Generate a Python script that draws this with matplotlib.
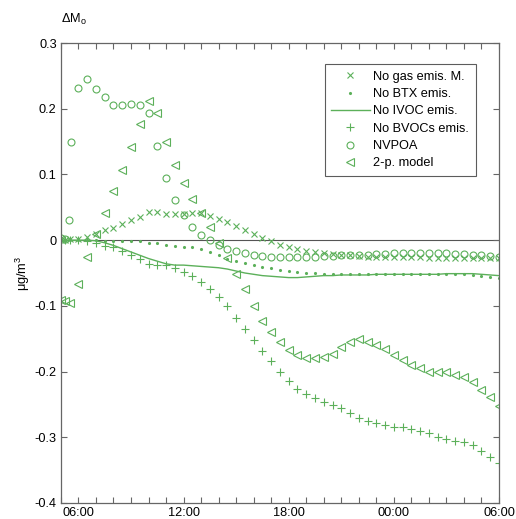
import matplotlib
matplotlib.use('Agg')
import matplotlib.pyplot as plt
from matplotlib.ticker import MultipleLocator, FixedLocator

plt.rcParams['font.family'] = ['Liberation Sans', 'DejaVu Sans']
plt.rcParams['mathtext.fontset'] = 'custom'
plt.rcParams['mathtext.rm'] = 'Liberation Sans'
plt.rcParams['mathtext.default'] = 'regular'

GREEN = '#5cb05a'

# half-hourly grid, hours since 00:00 of day 1 (24 = midnight)
hours = [6.0, 6.5, 7.0, 7.5, 8.0, 8.5, 9.0, 9.5, 10.0, 10.5, 11.0, 11.5,
         12.0, 12.5, 13.0, 13.5, 14.0, 14.5, 15.0, 15.5, 16.0, 16.5, 17.0, 17.5,
         18.0, 18.5, 19.0, 19.5, 20.0, 20.5, 21.0, 21.5, 22.0, 22.5, 23.0, 23.5,
         24.0, 24.5, 25.0, 25.5, 26.0, 26.5, 27.0, 27.5, 28.0, 28.5, 29.0, 29.5,
         30.0]
early_hours = [5.0, 5.25, 5.5]
early_hours_poa = [5.0, 5.25, 5.45, 5.6]

gas_early = [0.0, 0.0, 0.001]
gas = [0.002, 0.005, 0.010, 0.015, 0.018, 0.024, 0.030, 0.036, 0.043, 0.043,
       0.040, 0.040, 0.040, 0.041, 0.041, 0.037, 0.032, 0.028, 0.021, 0.015,
       0.010, 0.004, -0.001, -0.007, -0.011, -0.013, -0.016, -0.018, -0.020,
       -0.021, -0.022, -0.023, -0.024, -0.025, -0.025, -0.026, -0.026, -0.026,
       -0.026, -0.026, -0.027, -0.027, -0.027, -0.027, -0.027, -0.027, -0.027,
       -0.027, -0.027]

btx_early = [0.0, 0.0, 0.0]
btx = [0.0, 0.0, 0.0, -0.001, -0.001, -0.001, -0.002, -0.002, -0.004, -0.005,
       -0.007, -0.009, -0.010, -0.011, -0.014, -0.018, -0.023, -0.028, -0.031,
       -0.035, -0.038, -0.041, -0.043, -0.045, -0.047, -0.048, -0.050, -0.050,
       -0.051, -0.051, -0.051, -0.051, -0.051, -0.051, -0.051, -0.051, -0.051,
       -0.051, -0.051, -0.051, -0.051, -0.051, -0.051, -0.051, -0.052, -0.053,
       -0.055, -0.056, -0.057]

ivoc_early = [0.0, 0.0, 0.0]
ivoc = [0.0, 0.0, -0.001, -0.004, -0.008, -0.013, -0.018, -0.023, -0.028,
        -0.032, -0.036, -0.038, -0.038, -0.039, -0.040, -0.041, -0.042, -0.044,
        -0.047, -0.050, -0.052, -0.054, -0.055, -0.056, -0.057, -0.057, -0.056,
        -0.055, -0.054, -0.054, -0.053, -0.053, -0.053, -0.053, -0.052, -0.052,
        -0.052, -0.052, -0.052, -0.052, -0.052, -0.052, -0.051, -0.051, -0.051,
        -0.051, -0.052, -0.053, -0.054]

bvoc_early = [0.0, 0.0, 0.0]
bvoc = [0.0, -0.001, -0.005, -0.009, -0.011, -0.017, -0.023, -0.028, -0.036,
        -0.038, -0.038, -0.043, -0.048, -0.055, -0.063, -0.075, -0.087, -0.101,
        -0.118, -0.135, -0.152, -0.168, -0.184, -0.200, -0.214, -0.226, -0.234,
        -0.241, -0.247, -0.251, -0.255, -0.263, -0.270, -0.275, -0.278, -0.281,
        -0.284, -0.285, -0.288, -0.290, -0.294, -0.299, -0.303, -0.306, -0.308,
        -0.312, -0.321, -0.330, -0.339]

poa_early = [0.003, 0.002, 0.030, 0.149]
poa = [0.231, 0.245, 0.230, 0.218, 0.205, 0.206, 0.208, 0.205, 0.193, 0.143,
       0.095, 0.061, 0.038, 0.020, 0.008, 0.0, -0.008, -0.013, -0.016, -0.019,
       -0.023, -0.024, -0.025, -0.026, -0.026, -0.026, -0.025, -0.025, -0.024,
       -0.024, -0.023, -0.023, -0.022, -0.022, -0.021, -0.021, -0.020, -0.020,
       -0.020, -0.020, -0.020, -0.020, -0.020, -0.021, -0.021, -0.022, -0.023,
       -0.024, -0.025]

twop_early = [-0.091, -0.092, -0.096]
twop = [-0.067, -0.025, 0.009, 0.042, 0.075, 0.107, 0.142, 0.177, 0.212, 0.193,
        0.150, 0.114, 0.087, 0.063, 0.042, 0.020, -0.004, -0.027, -0.051,
        -0.075, -0.100, -0.123, -0.140, -0.155, -0.167, -0.175, -0.179, -0.180,
        -0.178, -0.173, -0.162, -0.155, -0.150, -0.155, -0.160, -0.165, -0.175,
        -0.182, -0.190, -0.195, -0.200, -0.200, -0.200, -0.205, -0.209, -0.216,
        -0.228, -0.239, -0.253]

tick_hours = [6, 12, 18, 24, 30]
tick_labels = ['06:00', '12:00', '18:00', '00:00', '06:00']

fig = plt.figure(figsize=(5.16, 5.19), dpi=100)
ax = fig.add_axes([0.118, 0.031, 0.849, 0.886])

ax.axhline(0, color='#555555', lw=0.8, zorder=1)

mk = dict(linestyle='none', color=GREEN, markerfacecolor='none',
          markeredgecolor=GREEN, markeredgewidth=0.8)
ax.plot(early_hours + hours, gas_early + gas, marker='x', markersize=4,
        label='No gas emis. M.', **mk)
ax.plot(early_hours + hours, btx_early + btx, marker='.', markersize=2.5,
        label='No BTX emis.', linestyle='none', color=GREEN)
ax.plot(early_hours + hours, ivoc_early + ivoc, color=GREEN, lw=1.0,
        label='No IVOC emis.')
ax.plot(early_hours + hours, bvoc_early + bvoc, marker='+', markersize=6,
        label='No BVOCs emis.', **mk)
ax.plot(early_hours_poa + hours, poa_early + poa, marker='o', markersize=5,
        label='NVPOA', **mk)
ax.plot(early_hours + hours, twop_early + twop, marker='<', markersize=5.5,
        label='2-p. model', **mk)

ax.set_xlim(5, 30)
ax.set_ylim(-0.4, 0.3)
ax.xaxis.set_major_locator(FixedLocator(tick_hours))
ax.set_xticklabels(tick_labels)
ax.xaxis.set_minor_locator(MultipleLocator(1))
ax.yaxis.set_major_locator(MultipleLocator(0.1))
ax.yaxis.set_major_formatter(matplotlib.ticker.FuncFormatter(
    lambda v, p: '0' if abs(v) < 1e-9 else ('%.1f' % v)))

ax.tick_params(which='both', direction='in', top=True, right=True,
               color='#666666', labelsize=9.2, pad=3)
ax.tick_params(which='major', length=4, width=0.8)
ax.tick_params(which='minor', length=4, width=0.8)
for s in ax.spines.values():
    s.set_color('#666666')
    s.set_linewidth(0.9)

ax.set_ylabel('μg/m$^3$', fontsize=9.2, labelpad=2)
fig.text(0.118, 0.955, r'$\Delta M_o$', fontsize=9.2)

leg = ax.legend(loc='upper right', bbox_to_anchor=(0.947, 0.954),
                fontsize=9.2, numpoints=1, handlelength=3.0,
                labelspacing=0.42, fancybox=False, edgecolor='#333333',
                borderpad=0.5, handletextpad=0.3, borderaxespad=0)
leg.get_frame().set_linewidth(0.8)

fig.savefig('out.png', dpi=100)
